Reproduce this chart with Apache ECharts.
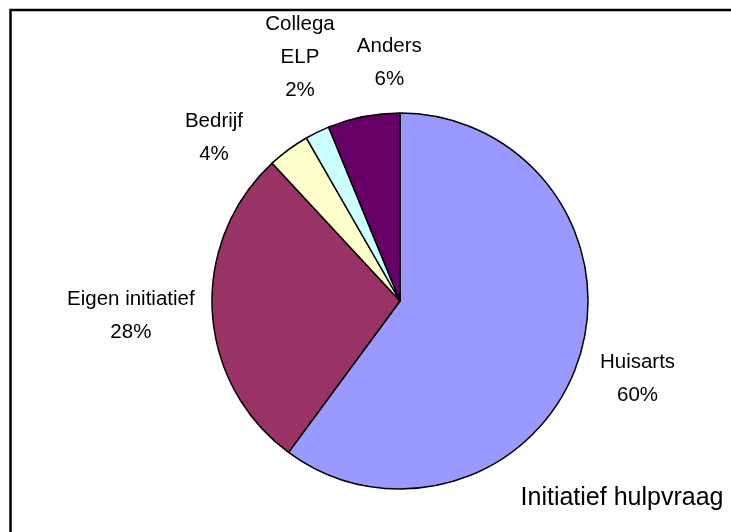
<!DOCTYPE html>
<html>
<head>
<meta charset="utf-8">
<script src="https://cdn.jsdelivr.net/npm/echarts@6/dist/echarts.min.js"></script>
<style>
html,body{margin:0;padding:0;background:#fff;}
#chart{width:731px;height:532px;}
</style>
</head>
<body>
<div id="chart"></div>
<script>
// ---- data ----
const categories = ['Huisarts', 'Eigen initiatief', 'Bedrijf', 'Collega\nELP', 'Anders'];
const values = [60.1, 28.0, 3.6, 2.1, 6.2];
const colors = ['#9999FF', '#993366', '#FFFFCC', '#CCFFFF', '#660066'];
const chartTitle = 'Initiatief hulpvraag';

// ---- layout constants ----
const CX = 400, CY = 301, R = 188, GAP = 16, FONT_SIZE = 20.5, LINE_H = 33, PADX = 22;
const FONT = 'Liberation Sans, Arial, sans-serif';

const total = values.reduce((a, b) => a + b, 0);
const labelTexts = categories.map((c, i) => c + '\n' + Math.round(values[i] / total * 100) + '%');

// measure labels
const cv = document.createElement('canvas').getContext('2d');
cv.font = FONT_SIZE + 'px "Liberation Sans"';
const hw = [], hh = [];
labelTexts.forEach(t => {
  const lines = t.split('\n');
  let w = 0;
  lines.forEach(l => { w = Math.max(w, cv.measureText(l).width); });
  hw.push(w / 2);
  hh.push(lines.length * LINE_H / 2);
});

// mid angles (degrees clockwise from 12 o'clock)
const th = [];
let acc = 0;
values.forEach(v => { th.push((acc + v / 2) / total * 360); acc += v; });

function place(t, i) {
  const s = Math.sin(t * Math.PI / 180), c = Math.cos(t * Math.PI / 180);
  const d = R + GAP + hw[i] * Math.abs(s) + hh[i] * Math.abs(c);
  return [CX + d * s, CY - d * c];
}
// simple angular repulsion to avoid overlapping labels
for (let it = 0; it < 4000; it++) {
  let moved = false;
  for (let i = 0; i < th.length - 1; i++) {
    const j = i + 1;
    const a = place(th[i], i), b = place(th[j], j);
    if (Math.abs(a[0] - b[0]) < hw[i] + hw[j] + PADX && Math.abs(a[1] - b[1]) < hh[i] + hh[j]) {
      th[i] -= 0.05; th[j] += 0.05; moved = true;
    }
  }
  if (!moved) break;
}
const labelPos = th.map((t, i) => place(t, i));

const chart = echarts.init(document.getElementById('chart'), null, {renderer: 'canvas'});
chart.setOption({
  backgroundColor: '#ffffff',
  animation: false,
  graphic: [
    {
      type: 'rect',
      shape: {x: 10.5, y: 10, width: 900, height: 700},
      style: {fill: 'none', stroke: '#000', lineWidth: 2.5},
      z: 0
    },
    {
      type: 'text',
      x: 622, y: 498,
      style: {
        text: chartTitle,
        fontSize: 25,
        fontFamily: FONT,
        fill: '#000',
        align: 'center',
        verticalAlign: 'middle'
      },
      z: 10
    }
  ],
  series: [{
    type: 'pie',
    center: [CX, CY],
    radius: R,
    startAngle: 90,
    clockwise: true,
    avoidLabelOverlap: false,
    data: categories.map((c, i) => ({name: c, value: values[i], itemStyle: {color: colors[i]}})),
    itemStyle: {borderColor: '#000', borderWidth: 1.5},
    emphasis: {disabled: true},
    label: {
      show: true,
      position: 'outside',
      formatter: p => labelTexts[p.dataIndex],
      fontSize: FONT_SIZE,
      lineHeight: LINE_H,
      fontFamily: FONT,
      color: '#000'
    },
    labelLine: {show: false},
    labelLayout: function (params) {
      const p = labelPos[params.dataIndex];
      return {x: p[0], y: p[1], align: 'center', verticalAlign: 'middle'};
    }
  }]
});
</script>
</body>
</html>
